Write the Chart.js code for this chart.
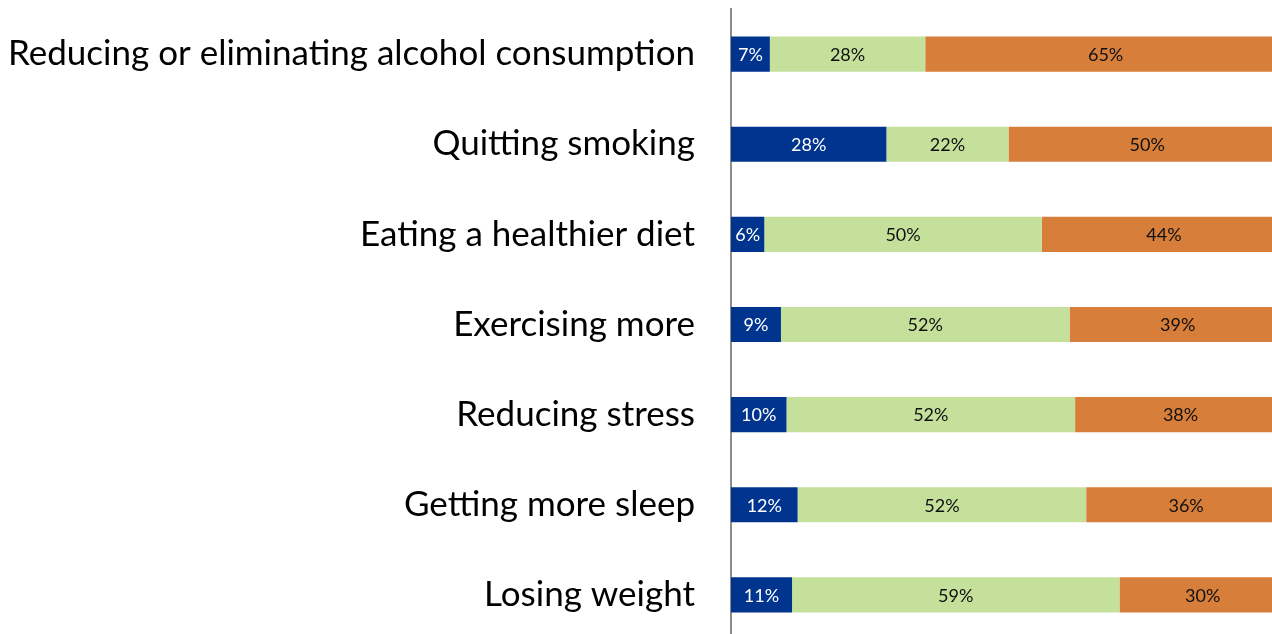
<!DOCTYPE html>
<html>
<head>
<meta charset="utf-8">
<script src="https://cdn.jsdelivr.net/npm/chart.js@4"></script>
<style>
  html, body { margin: 0; padding: 0; background: #fff; overflow: hidden; }
  #wrap { position: absolute; left: 0; top: 0; width: 1290px; height: 642px; }
</style>
</head>
<body>
<div id="wrap"><canvas id="myChart"></canvas></div>
<script>
const categories = [
  "Reducing or eliminating alcohol consumption",
  "Quitting smoking",
  "Eating a healthier diet",
  "Exercising more",
  "Reducing stress",
  "Getting more sleep",
  "Losing weight",
];

const blueValues = [7, 28, 6, 9, 10, 12, 11];
const greenValues = [28, 22, 50, 52, 52, 52, 59];
const orangeValues = [65, 50, 44, 39, 38, 36, 30];

// writes the percentage in the middle of every segment
const barLabels = {
  id: "barLabels",
  afterDatasetsDraw(chart) {
    const { ctx } = chart;
    ctx.save();
    ctx.font = "18px Lato";
    ctx.textAlign = "center";
    ctx.textBaseline = "middle";
    chart.data.datasets.forEach((ds, i) => {
      const meta = chart.getDatasetMeta(i);
      meta.data.forEach((bar, j) => {
        const { x, y } = bar.getCenterPoint();
        ctx.fillStyle = i === 0 ? "#ffffff" : "#111111";
        ctx.fillText(`${ds.data[j]}%`, x, y + 1);
      });
    });
    ctx.restore();
  },
};

const data = {
  labels: categories,
  datasets: [
    {
      label: "blue",
      data: blueValues,
      backgroundColor: "#00348f",
    },
    {
      label: "green",
      data: greenValues,
      backgroundColor: "#c4e09b",
    },
    {
      label: "orange",
      data: orangeValues,
      backgroundColor: "#d77e3b",
    },
  ],
};

const config = {
  type: "bar",
  data: data,
  options: {
    indexAxis: "y",
    responsive: true,
    maintainAspectRatio: false,
    animation: false,
    categoryPercentage: 1,
    barPercentage: 0.39,
    layout: {
      padding: { top: 9, right: 4, bottom: 2, left: 0 },
    },
    scales: {
      x: {
        stacked: true,
        display: false,
        min: 0,
        max: 100,
      },
      y: {
        stacked: true,
        afterFit: (scale) => {
          // fixed axis width, no extra padding around the category labels
          scale.width = 731;
          scale.paddingTop = 0;
          scale.paddingBottom = 0;
        },
        grid: { display: false, drawTicks: false },
        border: { display: true, color: "#8c8c8c", width: 2 },
        ticks: {
          padding: 36,
          color: "#000",
          font: { family: "Lato", size: 35 },
        },
      },
    },
    plugins: {
      legend: { display: false },
      tooltip: { enabled: false },
    },
  },
  plugins: [barLabels],
};

new Chart(document.getElementById("myChart"), config);
</script>
</body>
</html>
